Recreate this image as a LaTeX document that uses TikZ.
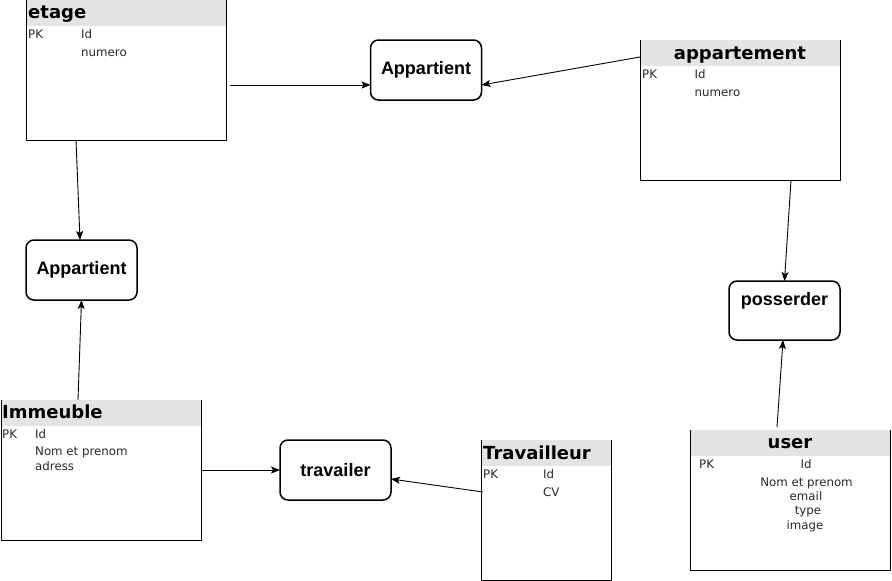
\documentclass[tikz,border=0pt]{standalone}
\usepackage{fontspec}
\setmainfont{DejaVu Sans}
\newfontfamily\relfont{Liberation Sans}
\usetikzlibrary{arrows.meta,calc}
\definecolor{hdr}{RGB}{228,228,228}
\definecolor{fld}{RGB}{40,40,40}
\tikzset{
 entbox/.style={inner sep=0pt, outer sep=0pt, minimum height=140pt},
 relbox/.style={draw, line width=1.5pt, rounded corners=8pt, minimum width=111pt, minimum height=60pt, inner sep=0pt, outer sep=0pt, font=\relfont\bfseries\fontsize{18}{20}\selectfont},
 ttl/.style={inner sep=0pt, font=\bfseries\fontsize{18}{20}\selectfont},
 fldtxt/.style={inner sep=0pt, text=fld, font=\fontsize{11.8}{14.3}\selectfont},
 conn/.style={line width=0.9pt, -{Stealth[length=9pt,width=7pt,inset=2pt]}},
}
\newcommand\mkent[4]{%
 \node[entbox, minimum width=#4pt, anchor=north west] (#1) at (#2,#3) {};
 \fill[hdr] (#1.north west) rectangle ([yshift=-26pt]#1.north east);
 \draw[line width=1pt] (#1.north west) -- (#1.south west) -- (#1.south east) -- (#1.north east);
}
\begin{document}
\begin{tikzpicture}[x=1pt,y=-1pt]
\useasboundingbox (0,0) rectangle (892,581);
% entities
\mkent{etage}{26}{0}{200}
\mkent{appartement}{640}{40}{200}
\mkent{imm}{1}{400}{200}
\mkent{travailleur}{481}{440}{130}
\mkent{user}{690}{430}{200}
% etage texts
\node[ttl, anchor=base west] (etage-t) at (28,18.5) {etage};
\node[fldtxt, anchor=base west] (etage-pk) at (28,38) {PK};
\node[fldtxt, anchor=base west] (etage-id) at (81,38) {Id};
\node[fldtxt, anchor=base west] (etage-num) at (81,56.5) {numero};
% appartement texts
\node[ttl, anchor=base] (app-t) at (740,59) {appartement};
\node[fldtxt, anchor=base west] (app-pk) at (642,78) {PK};
\node[fldtxt, anchor=base west] (app-id) at (694.5,78) {Id};
\node[fldtxt, anchor=base west] (app-num) at (694.5,96.5) {numero};
% immeuble texts
\node[ttl, anchor=base west] (imm-t) at (2,418.5) {Immeuble};
\node[fldtxt, anchor=base west] (imm-pk) at (2,438) {PK};
\node[fldtxt, anchor=base west] (imm-id) at (35,438) {Id};
\node[fldtxt, anchor=base west] (imm-nom) at (35,455.7) {Nom et prenom};
\node[fldtxt, anchor=base west] (imm-adr) at (35,470) {adress};
% travailleur texts
\node[ttl, anchor=base west] (trav-t) at (483,459) {Travailleur};
\node[fldtxt, anchor=base west] (trav-pk) at (483,478) {PK};
\node[fldtxt, anchor=base west] (trav-id) at (543,478) {Id};
\node[fldtxt, anchor=base west] (trav-cv) at (543,496.5) {CV};
% user texts
\node[ttl, anchor=base] (user-t) at (790,448.5) {user};
\node[fldtxt, anchor=base west] (user-pk) at (699,468) {PK};
\node[fldtxt, anchor=base] (user-id) at (806,468) {Id};
\node[fldtxt, anchor=base] (user-nom) at (806.5,486.7) {Nom et prenom};
\node[fldtxt, anchor=base] (user-email) at (806,500.5) {email};
\node[fldtxt, anchor=base] (user-type) at (808,514.5) {type};
\node[fldtxt, anchor=base] (user-img) at (805,529) {image};
% relationships
\node[relbox] (app1) at (426,70) {Appartient};
\node[relbox] (app2) at (81.5,270) {Appartient};
\node[relbox, minimum height=59pt] (poss) at (784.5,310.5) {};
\node[inner sep=0pt, anchor=base, font=\relfont\bfseries\fontsize{18}{20}\selectfont] (poss-t) at (784.5,305) {posserder};
\node[relbox] (trav) at (335.5,470) {travailer};
% connectors
\draw[conn] ([shift={(4,15)}]etage.east) -- ([yshift=-15pt]app1.west);
\draw[conn] ([yshift=-17pt]appartement.north west) -- ([yshift=-15pt]app1.east);
\draw[conn] ([xshift=-50pt]etage.south) -- ([xshift=-1.5pt]app2.north);
\draw[conn] ([xshift=-23pt]imm.north) -- (app2.south);
\draw[conn] ([xshift=51pt]appartement.south) -- (poss.north);
\draw[conn] ([shift={(-13,-3)}]user.north) -- ([xshift=-1.5pt]poss.south);
\draw[conn] (imm.east) -- (trav.west);
\draw[conn] ([shift={(2,-18)}]travailleur.west) -- ([yshift=-9pt]trav.east);
\end{tikzpicture}
\end{document}
